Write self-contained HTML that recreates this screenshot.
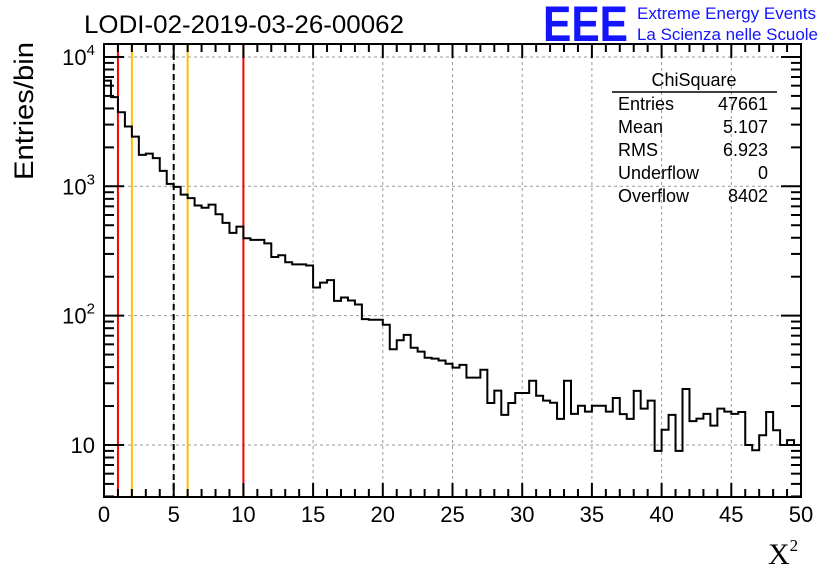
<!DOCTYPE html>
<html><head><meta charset="utf-8"><style>
body{margin:0;background:#fff}
svg{display:block}
text{font-family:"Liberation Sans",sans-serif}
</style></head><body>
<svg id="chart" width="836" height="572" viewBox="0 0 836 572">
<text x="84" y="33" font-size="25" textLength="320" lengthAdjust="spacingAndGlyphs">LODI-02-2019-03-26-00062</text>
<g>
<text x="543" y="41" font-size="50" font-weight="bold" fill="#1414ff" textLength="85" lengthAdjust="spacingAndGlyphs">EEE</text>
<text x="637" y="19" font-size="16.5" fill="#1414ff" textLength="179" lengthAdjust="spacingAndGlyphs">Extreme Energy Events</text>
<text x="637" y="40" font-size="16.5" fill="#1414ff" textLength="181" lengthAdjust="spacingAndGlyphs">La Scienza nelle Scuole</text>
</g>
<g id="grid"></g>
<g id="vlines"></g>
<path id="hist" fill="none" stroke="#000" stroke-width="2"></path>
<rect x="104" y="44" width="697" height="453" fill="none" stroke="#000" stroke-width="2"/>
<g id="ticks"></g>
<text transform="translate(33,111) rotate(-90)" text-anchor="middle" font-size="27" textLength="138" lengthAdjust="spacingAndGlyphs">Entries/bin</text>
<text x="768" y="564" font-size="30" style="font-family:'Liberation Serif',serif">X<tspan font-size="17" dy="-13">2</tspan></text>
<g font-size="18">
<text x="694" y="86" text-anchor="middle">ChiSquare</text>
<line x1="612" y1="92" x2="777" y2="92" stroke="#000" stroke-width="1.5"/>
<text x="618" y="110">Entries</text><text x="768" y="110" text-anchor="end">47661</text>
<text x="618" y="133">Mean</text><text x="768" y="133" text-anchor="end">5.107</text>
<text x="618" y="156">RMS</text><text x="768" y="156" text-anchor="end">6.923</text>
<text x="618" y="179">Underflow</text><text x="768" y="179" text-anchor="end">0</text>
<text x="618" y="202">Overflow</text><text x="768" y="202" text-anchor="end">8402</text>
</g>
</svg>
<script>
const binWidth = 0.5;
const counts = [6560,4890,3740,2900,2420,1750,1790,1650,1315,1045,990,863,810,710,683,721,608,521,436,488,397,385,385,362,284,293,259,249,249,244,165,180,188,130,138,131,122,94,93,93,85,55,64.5,71,56.5,52.7,47.3,46.5,45,42.5,39.6,41.6,33.2,33.2,38.2,21.1,26.3,17.1,21.1,25.2,25.2,31.4,24,22,21.2,15.9,31.4,17.4,20.1,18.1,20.1,20.1,18.1,23.1,17.3,15.9,26.2,19.1,22,9.0,13.1,17.1,9.0,27.1,15.3,16,17.4,14.1,19.1,18.1,17.4,18,10,9.1,11.9,18,13,10,10.9,10];
const xTicks = [0,5,10,15,20,25,30,35,40,45,50];
const yTicks = [10,100,1000,10000];
const redLines = [1,10];
const orangeLines = [2,6];
const meanLine = [5];
const NS='http://www.w3.org/2000/svg';
const X0=104,X1=801,Y0=497,Y1=44,xmin=0,xmax=50;
const ymin=Math.log10(3.96),ymax=Math.log10(12600);
const sx=v=>X0+(v-xmin)/(xmax-xmin)*(X1-X0);
const sy=v=>Y0-(Math.log10(v)-ymin)/(ymax-ymin)*(Y0-Y1);
function mk(tag,attrs,parent){const e=document.createElementNS(NS,tag);for(const k in attrs)e.setAttribute(k,attrs[k]);parent.appendChild(e);return e;}
const grid=document.getElementById('grid'),ticks=document.getElementById('ticks'),vl=document.getElementById('vlines');
xTicks.forEach(t=>{
  if(t>xmin&&t<xmax){const l=mk('line',{x1:sx(t),x2:sx(t),y1:Y1,y2:Y0,stroke:'#999','stroke-dasharray':'3,3','stroke-width':1},grid);
  
  }
  const tx=mk('text',{x:sx(t),y:522,'text-anchor':'middle','font-size':22},ticks);tx.textContent=t;
  
  
});
for(let v=0;v<=50;v++){const len=v%5==0?14:8;
  mk('line',{x1:sx(v),x2:sx(v),y1:Y0,y2:Y0-len,stroke:'#000','stroke-width':2},ticks);
  mk('line',{x1:sx(v),x2:sx(v),y1:Y1,y2:Y1+len,stroke:'#000','stroke-width':2},ticks);}
yTicks.forEach((t,i)=>{
  const l=mk('line',{x1:X0,x2:X1,y1:sy(t),y2:sy(t),stroke:'#999','stroke-dasharray':'3,3','stroke-width':1},grid);
  
  
  const tx=mk('text',{x:95,y:sy(t)+8,'text-anchor':'end','font-size':22},ticks);
  if(t===10){tx.textContent='10';}else{tx.textContent='10';const s=mk('tspan',{dy:-10,'font-size':15},tx);s.textContent=String(Math.round(Math.log10(t)));}
  
  
});
for(let d=0;d<5;d++)for(let m=1;m<10;m++){const v=m*Math.pow(10,d);if(v<4||v>12600)continue;const len=m==1?20:10;const y=sy(v);
  mk('line',{x1:X0,x2:X0+len,y1:y,y2:y,stroke:'#000','stroke-width':2},ticks);
  mk('line',{x1:X1,x2:X1-len,y1:y,y2:y,stroke:'#000','stroke-width':2},ticks);}
function vline(v,col,dash,name){const l=mk('line',{x1:sx(v),x2:sx(v),y1:Y1,y2:Y0,stroke:col,'stroke-width':2},vl);if(dash)l.setAttribute('stroke-dasharray',dash);
  
  }
redLines.forEach(v=>vline(v,'#f00',null,'red-limit-line'));
orangeLines.forEach(v=>vline(v,'#ffc000',null,'orange-limit-line'));
meanLine.forEach(v=>vline(v,'#000','6,4','mean-line'));
let d='';counts.forEach((c,i)=>{const xa=sx(i*binWidth),xb=sx((i+1)*binWidth),y=sy(c);d+=(i==0?'M'+xa+','+y:'L'+xa+','+y)+'L'+xb+','+y;});
document.getElementById('hist').setAttribute('d',d);
</script>
</body></html>
